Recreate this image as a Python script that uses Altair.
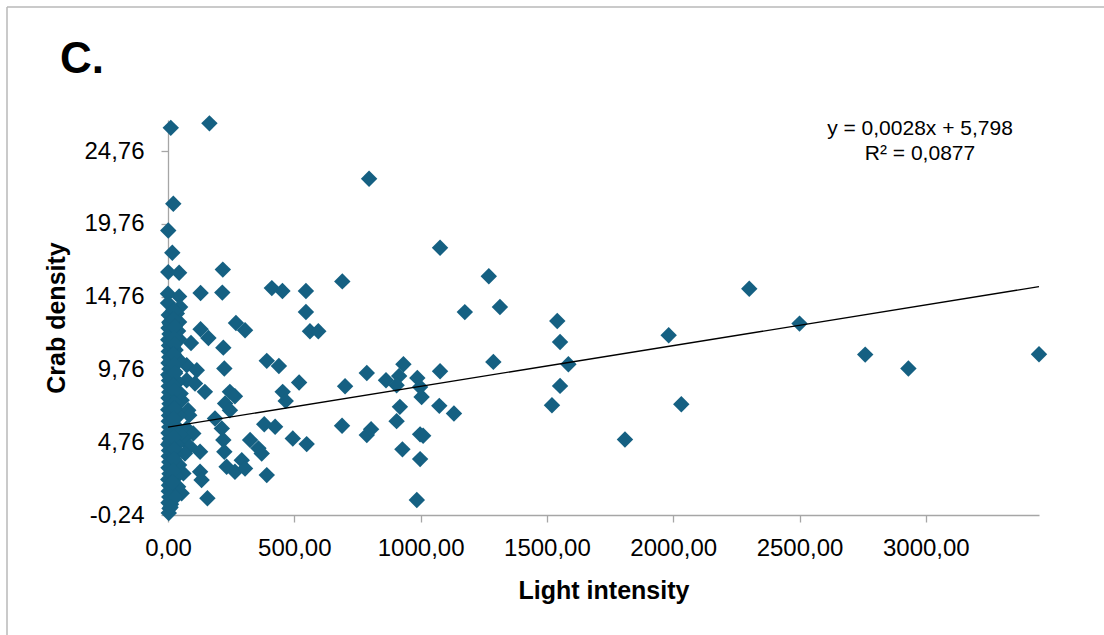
import altair as alt
import pandas as pd

# ---- data ----
light_intensity = [
    # scattered points near the y axis
    11, 164, 796, 21, 1, 17, 1, 44, 217, 0, 44, 129, 215, 0, 48, 21, 44, 129, 160, 269,
    305, 219, 44, 91, 223, 74, 114, 74, 107, 146, 245, 265, 226, 245, 54, 80, 84, 186, 213, 74,
    100, 61, 87, 67, 127, 219, 223, 325, 358, 371, 391, 232, 265, 292, 305, 127, 133, 61, 54, 156,
    # middle group
    690, 411, 453, 546, 546, 562, 595, 391, 439, 519, 454, 466, 701, 787, 381, 424, 689, 787, 804, 494, 549,
    # right group
    1077, 1270, 2301, 1175, 1314, 1541, 1552, 1982, 1288, 1077, 932, 863, 915, 905, 987, 998, 1004, 1585,
    1552, 1520, 2032, 1074, 1132, 918, 905, 998, 1010, 928, 998, 1809, 985, 2500, 2760, 2931, 3448,
    # dense column at very low light
    3, 5, 2, 6, 1, 4, 3, 5, 2, 6, 1, 4, 3, 5, 2, 6, 1, 4, 3, 5, 2, 6, 1, 4, 3, 5, 2, 6, 1, 4, 3, 5, 2, 6, 3,
    8, 15, 20, 12, 18, 9, 16, 21, 11, 14, 19, 10, 17, 13, 20, 8, 15, 12,
    35, 40, 30, 45, 28, 38, 50, 32, 42, 30, 48, 36, 28, 44, 34, 40, 30,
    25, 22, 27, 24, 26, 23, 25, 28, 22, 26, 24, 27, 23, 25, 22, 26, 24, 20, 18, 10,
]
crab_density = [
    26.36, 26.67, 22.86, 21.14, 19.31, 17.78, 16.45, 16.41, 16.62, 14.97, 14.78, 15.01, 15.04, 14.32, 14.05, 13.82, 13.02, 12.52, 11.92, 12.95,
    12.45, 11.26, 11.83, 11.58, 9.82, 10.05, 9.71, 9.02, 8.79, 8.22, 8.22, 7.92, 7.42, 6.96, 7.65, 6.96, 6.62, 6.39, 5.71, 5.71,
    5.36, 5.02, 4.45, 3.99, 4.10, 4.91, 4.10, 4.91, 4.34, 3.99, 2.50, 3.07, 2.73, 3.53, 2.96, 2.73, 2.16, 2.62, 1.25, 0.91,
    15.81, 15.35, 15.15, 15.15, 13.71, 12.38, 12.38, 10.35, 10.00, 8.86, 8.22, 7.60, 8.61, 9.52, 6.00, 5.82, 5.89, 5.25, 5.66, 5.02, 4.63,
    18.12, 16.17, 15.31, 13.70, 14.05, 13.09, 11.65, 12.11, 10.28, 9.64, 10.12, 9.02, 9.31, 8.68, 9.18, 8.56, 7.87, 10.12,
    8.63, 7.30, 7.37, 7.26, 6.74, 7.19, 6.21, 5.30, 5.20, 4.27, 3.60, 4.95, 0.79, 12.91, 10.78, 9.82, 10.80,
    13.5, 13.0, 12.6, 12.2, 11.8, 11.4, 11.0, 10.6, 10.2, 9.8, 9.4, 9.0, 8.6, 8.2, 7.8, 7.4, 7.0, 6.6, 6.2, 5.8,
    5.4, 5.0, 4.6, 4.2, 3.8, 3.4, 3.0, 2.6, 2.2, 1.8, 1.4, 1.0, 0.6, 0.2, -0.1,
    12.9, 12.1, 11.3, 10.5, 9.9, 9.2, 8.4, 7.6, 6.9, 6.1, 5.5, 4.8, 4.0, 3.3, 2.5, 1.8, 1.1, 0.5,
    13.6, 12.4, 11.1, 10.4, 9.6, 8.9, 8.1, 7.3, 6.6, 5.9, 5.3, 4.6, 3.9, 3.2, 2.4, 1.7, 1.0,
    13.8, 13.2, 12.7, 11.9, 11.5, 10.8, 10.1, 9.5, 8.7, 8.3, 7.5, 7.1, 6.4, 5.7, 5.1, 4.3, 3.6, 2.8, 2.0, 0.3,
]

# trendline as printed on the chart
slope = 0.0028
intercept = 5.798
x_max = 3448
y_min, y_max = -0.24, 26.9

x_ticks = [0, 500, 1000, 1500, 2000, 2500, 3000]
y_ticks = [-0.24, 4.76, 9.76, 14.76, 19.76, 24.76]

panel_label = "C."
equation_text = "y = 0,0028x + 5,798"
r2_text = "R\u00b2 = 0,0877"

df = pd.DataFrame({"light": light_intensity, "crab": crab_density})
trend = pd.DataFrame({"light": [0, x_max], "crab": [intercept, intercept + slope * x_max]})
one = pd.DataFrame({"a": [0]})

FONT = "Liberation Sans"
BLUE = "#156082"
GRAY = "#a6a6a6"

x_scale = alt.Scale(domain=[0, x_max], nice=False, zero=False)
y_scale = alt.Scale(domain=[y_min, y_max], nice=False, zero=False)

xlab = "replace(format(datum.value, '.2f'), '.', ',')"
ylab = "(datum.value < 0 ? '-' : '') + replace(format(abs(datum.value), '.2f'), '.', ',')"

points = alt.Chart(df).mark_point(
    shape="diamond", filled=True, size=270, color=BLUE, opacity=1
).encode(
    x=alt.X("light:Q", scale=x_scale,
            axis=alt.Axis(values=x_ticks, labelExpr=xlab, title="Light intensity",
                          labelFlush=False, labelOverlap=False, labelPadding=14,
                          titlePadding=18)),
    y=alt.Y("crab:Q", scale=y_scale,
            axis=alt.Axis(values=y_ticks, labelExpr=ylab, title="Crab density",
                          labelFlush=False, labelOverlap=False, labelPadding=17,
                          titlePadding=14)),
)

line = alt.Chart(trend).mark_line(color="black", strokeWidth=1.3).encode(
    x=alt.X("light:Q", scale=x_scale), y=alt.Y("crab:Q", scale=y_scale)
)

title_txt = alt.Chart(one).mark_text(
    text=panel_label, font=FONT, fontSize=44, fontWeight="bold", align="left",
    baseline="alphabetic", color="black"
).encode(x=alt.value(-108), y=alt.value(-47))

eq_txt = alt.Chart(one).mark_text(
    text=equation_text, font=FONT, fontSize=21, align="center",
    baseline="alphabetic", color="black"
).encode(x=alt.value(752), y=alt.value(15))

r2_txt = alt.Chart(one).mark_text(
    text=r2_text, font=FONT, fontSize=21, align="center",
    baseline="alphabetic", color="black"
).encode(x=alt.value(752), y=alt.value(40))

border_v = alt.Chart(one).mark_rule(color="#b8b8b8", strokeWidth=1.5).encode(
    x=alt.value(-161), y=alt.value(-113), y2=alt.value(530)
)
border_h = alt.Chart(one).mark_rule(color="#b8b8b8", strokeWidth=1.5).encode(
    x=alt.value(-161), x2=alt.value(950), y=alt.value(-113)
)

chart = alt.layer(
    border_v, border_h, points, line, title_txt, eq_txt, r2_txt
).properties(
    width=871, height=395,
    padding={"left": 168, "top": 120, "right": 65, "bottom": 120},
    autosize=alt.AutoSizeParams(type="none"),
    background="white",
).configure_view(stroke=None).configure_axis(
    grid=False,
    domainColor=GRAY, domainWidth=1.3,
    tickColor=GRAY, tickWidth=1.3, tickSize=7,
    labelFont=FONT, labelFontSize=24, labelColor="black",
    titleFont=FONT, titleFontSize=25, titleFontWeight="bold", titleColor="black",
)

chart.save("out.html", embed_options={"renderer": "svg", "actions": False})
